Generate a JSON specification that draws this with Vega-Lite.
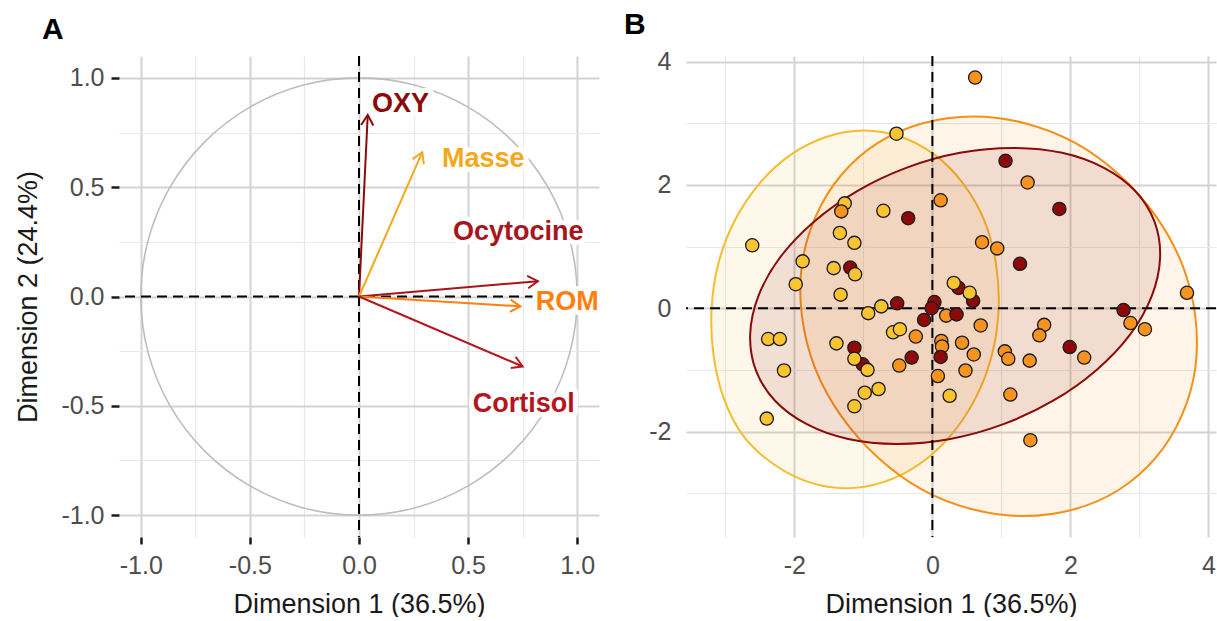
{
  "$schema": "https://vega.github.io/schema/vega-lite/v6.json",
  "background": "white",
  "padding": {"left": 14, "top": 9, "right": 0, "bottom": 0},
  "bounds": "flush",
  "spacing": 87,
  "resolve": {"scale": {"color": "independent", "x": "independent", "y": "independent"}},
  "config": {
    "font": "Liberation Sans",
    "view": {"stroke": null},
    "axis": {
      "domain": false,
      "labelColor": "#4D4D4D",
      "labelFontSize": 25,
      "titleColor": "#1A1A1A",
      "titleFontSize": 27,
      "titleFontWeight": "normal",
      "tickColor": "#1A1A1A",
      "tickWidth": 2.5,
      "labelOverlap": false,
      "labelFlush": false
    },
    "title": {"fontSize": 30, "fontWeight": "bold", "anchor": "start", "frame": "group", "color": "#000000", "offset": 10}
  },
  "datasets": {
    "one": [{"z": 0}],
    "circle": [
      {"i": 0, "x": 1, "y": 0}, {"i": 1, "x": 0.9659, "y": 0.2588}, {"i": 2, "x": 0.866, "y": 0.5}, {"i": 3, "x": 0.7071, "y": 0.7071},
      {"i": 4, "x": 0.5, "y": 0.866}, {"i": 5, "x": 0.2588, "y": 0.9659}, {"i": 6, "x": 0, "y": 1}, {"i": 7, "x": -0.2588, "y": 0.9659},
      {"i": 8, "x": -0.5, "y": 0.866}, {"i": 9, "x": -0.7071, "y": 0.7071}, {"i": 10, "x": -0.866, "y": 0.5}, {"i": 11, "x": -0.9659, "y": 0.2588},
      {"i": 12, "x": -1, "y": 0}, {"i": 13, "x": -0.9659, "y": -0.2588}, {"i": 14, "x": -0.866, "y": -0.5}, {"i": 15, "x": -0.7071, "y": -0.7071},
      {"i": 16, "x": -0.5, "y": -0.866}, {"i": 17, "x": -0.2588, "y": -0.9659}, {"i": 18, "x": 0, "y": -1}, {"i": 19, "x": 0.2588, "y": -0.9659},
      {"i": 20, "x": 0.5, "y": -0.866}, {"i": 21, "x": 0.7071, "y": -0.7071}, {"i": 22, "x": 0.866, "y": -0.5}, {"i": 23, "x": 0.9659, "y": -0.2588}
    ],
    "arrows": [
      {"var": "OXY", "x": 0.04, "y": 0.83},
      {"var": "Masse", "x": 0.29, "y": 0.66},
      {"var": "Ocytocine", "x": 0.82, "y": 0.07},
      {"var": "ROM", "x": 0.74, "y": -0.045},
      {"var": "Cortisol", "x": 0.75, "y": -0.32}
    ],
    "labels": [
      {"var": "OXY", "x": 0.19, "y": 0.88},
      {"var": "Masse", "x": 0.57, "y": 0.63},
      {"var": "Ocytocine", "x": 0.73, "y": 0.295},
      {"var": "ROM", "x": 0.955, "y": -0.025},
      {"var": "Cortisol", "x": 0.755, "y": -0.49}
    ],
    "ellipses": [
      {"g": "G1", "i": 0, "x": 0.96, "y": -0.02}, {"g": "G1", "i": 1, "x": 0.92, "y": 0.73}, {"g": "G1", "i": 2, "x": 0.75, "y": 1.43}, {"g": "G1", "i": 3, "x": 0.44, "y": 2.03},
      {"g": "G1", "i": 4, "x": 0.03, "y": 2.49}, {"g": "G1", "i": 5, "x": -0.46, "y": 2.78}, {"g": "G1", "i": 6, "x": -0.99, "y": 2.88}, {"g": "G1", "i": 7, "x": -1.53, "y": 2.78},
      {"g": "G1", "i": 8, "x": -2.05, "y": 2.49}, {"g": "G1", "i": 9, "x": -2.5, "y": 2.03}, {"g": "G1", "i": 10, "x": -2.86, "y": 1.43}, {"g": "G1", "i": 11, "x": -3.1, "y": 0.73},
      {"g": "G1", "i": 12, "x": -3.2, "y": -0.02}, {"g": "G1", "i": 13, "x": -3.17, "y": -0.77}, {"g": "G1", "i": 14, "x": -3.02, "y": -1.47}, {"g": "G1", "i": 15, "x": -2.74, "y": -2.07},
      {"g": "G1", "i": 16, "x": -2.3, "y": -2.53}, {"g": "G1", "i": 17, "x": -1.79, "y": -2.82}, {"g": "G1", "i": 18, "x": -1.25, "y": -2.92}, {"g": "G1", "i": 19, "x": -0.71, "y": -2.82},
      {"g": "G1", "i": 20, "x": -0.19, "y": -2.53}, {"g": "G1", "i": 21, "x": 0.26, "y": -2.07}, {"g": "G1", "i": 22, "x": 0.62, "y": -1.47}, {"g": "G1", "i": 23, "x": 0.86, "y": -0.77},
      {"g": "G2", "i": 0, "x": 3.81, "y": -0.13}, {"g": "G2", "i": 1, "x": 3.62, "y": 0.71}, {"g": "G2", "i": 2, "x": 3.24, "y": 1.49}, {"g": "G2", "i": 3, "x": 2.71, "y": 2.16},
      {"g": "G2", "i": 4, "x": 2.07, "y": 2.68}, {"g": "G2", "i": 5, "x": 1.34, "y": 3.0}, {"g": "G2", "i": 6, "x": 0.59, "y": 3.11}, {"g": "G2", "i": 7, "x": -0.14, "y": 3.0},
      {"g": "G2", "i": 8, "x": -0.79, "y": 2.68}, {"g": "G2", "i": 9, "x": -1.32, "y": 2.16}, {"g": "G2", "i": 10, "x": -1.69, "y": 1.49}, {"g": "G2", "i": 11, "x": -1.89, "y": 0.71},
      {"g": "G2", "i": 12, "x": -1.89, "y": -0.13}, {"g": "G2", "i": 13, "x": -1.7, "y": -0.97}, {"g": "G2", "i": 14, "x": -1.32, "y": -1.75}, {"g": "G2", "i": 15, "x": -0.79, "y": -2.42},
      {"g": "G2", "i": 16, "x": -0.15, "y": -2.94}, {"g": "G2", "i": 17, "x": 0.58, "y": -3.26}, {"g": "G2", "i": 18, "x": 1.33, "y": -3.37}, {"g": "G2", "i": 19, "x": 2.06, "y": -3.26},
      {"g": "G2", "i": 20, "x": 2.71, "y": -2.94}, {"g": "G2", "i": 21, "x": 3.24, "y": -2.42}, {"g": "G2", "i": 22, "x": 3.61, "y": -1.75}, {"g": "G2", "i": 23, "x": 3.81, "y": -0.97},
      {"g": "G3", "i": 0, "x": 3.18, "y": 0.2}, {"g": "G3", "i": 1, "x": 3.3, "y": 0.82}, {"g": "G3", "i": 2, "x": 3.22, "y": 1.4}, {"g": "G3", "i": 3, "x": 2.94, "y": 1.9},
      {"g": "G3", "i": 4, "x": 2.48, "y": 2.28}, {"g": "G3", "i": 5, "x": 1.88, "y": 2.52}, {"g": "G3", "i": 6, "x": 1.17, "y": 2.6}, {"g": "G3", "i": 7, "x": 0.4, "y": 2.52},
      {"g": "G3", "i": 8, "x": -0.37, "y": 2.28}, {"g": "G3", "i": 9, "x": -1.09, "y": 1.9}, {"g": "G3", "i": 10, "x": -1.72, "y": 1.4}, {"g": "G3", "i": 11, "x": -2.21, "y": 0.82},
      {"g": "G3", "i": 12, "x": -2.52, "y": 0.2}, {"g": "G3", "i": 13, "x": -2.64, "y": -0.42}, {"g": "G3", "i": 14, "x": -2.56, "y": -1.0}, {"g": "G3", "i": 15, "x": -2.28, "y": -1.5},
      {"g": "G3", "i": 16, "x": -1.82, "y": -1.88}, {"g": "G3", "i": 17, "x": -1.22, "y": -2.12}, {"g": "G3", "i": 18, "x": -0.51, "y": -2.2}, {"g": "G3", "i": 19, "x": 0.26, "y": -2.12},
      {"g": "G3", "i": 20, "x": 1.03, "y": -1.88}, {"g": "G3", "i": 21, "x": 1.75, "y": -1.5}, {"g": "G3", "i": 22, "x": 2.38, "y": -1.0}, {"g": "G3", "i": 23, "x": 2.87, "y": -0.42}
    ],
    "points": [
      {"g": "G2", "x": 0.62, "y": 3.74}, {"g": "G2", "x": 1.38, "y": 2.04}, {"g": "G2", "x": 0.12, "y": 1.75}, {"g": "G2", "x": 0.72, "y": 1.07},
      {"g": "G2", "x": 0.94, "y": 0.97}, {"g": "G2", "x": 3.69, "y": 0.25}, {"g": "G2", "x": 0.2, "y": -0.12}, {"g": "G2", "x": 0.7, "y": -0.28},
      {"g": "G2", "x": -0.24, "y": -0.46}, {"g": "G2", "x": 0.13, "y": -0.53}, {"g": "G2", "x": 0.14, "y": -0.62}, {"g": "G2", "x": 0.43, "y": -0.56},
      {"g": "G2", "x": 0.6, "y": -0.75}, {"g": "G2", "x": 0.08, "y": -1.1}, {"g": "G2", "x": 0.48, "y": -1.01}, {"g": "G2", "x": -0.48, "y": -0.93},
      {"g": "G2", "x": 1.62, "y": -0.27}, {"g": "G2", "x": 1.55, "y": -0.44}, {"g": "G2", "x": 1.05, "y": -0.7}, {"g": "G2", "x": 1.1, "y": -0.82},
      {"g": "G2", "x": 1.41, "y": -0.85}, {"g": "G2", "x": 2.2, "y": -0.8}, {"g": "G2", "x": 1.13, "y": -1.4}, {"g": "G2", "x": 1.42, "y": -2.14},
      {"g": "G2", "x": 2.87, "y": -0.24}, {"g": "G2", "x": 3.08, "y": -0.34},
      {"g": "G3", "x": 1.06, "y": 2.39}, {"g": "G3", "x": 1.84, "y": 1.61}, {"g": "G3", "x": -0.35, "y": 1.46}, {"g": "G3", "x": 1.27, "y": 0.72},
      {"g": "G3", "x": -1.19, "y": 0.66}, {"g": "G3", "x": 0.38, "y": 0.33}, {"g": "G3", "x": 0.59, "y": 0.12}, {"g": "G3", "x": -0.51, "y": 0.08},
      {"g": "G3", "x": 0.03, "y": 0.1}, {"g": "G3", "x": -0.01, "y": 0.0}, {"g": "G3", "x": -0.12, "y": -0.19}, {"g": "G3", "x": 0.35, "y": -0.1},
      {"g": "G3", "x": -1.13, "y": -0.64}, {"g": "G3", "x": -1.01, "y": -0.91}, {"g": "G3", "x": -0.3, "y": -0.8}, {"g": "G3", "x": 0.12, "y": -0.79},
      {"g": "G3", "x": 1.99, "y": -0.63}, {"g": "G3", "x": 2.77, "y": -0.03},
      {"g": "G1", "x": -0.52, "y": 2.83}, {"g": "G1", "x": -1.27, "y": 1.7}, {"g": "G1", "x": -0.71, "y": 1.58}, {"g": "G1", "x": -1.34, "y": 1.22},
      {"g": "G1", "x": -1.13, "y": 1.06}, {"g": "G1", "x": -2.61, "y": 1.02}, {"g": "G1", "x": -1.88, "y": 0.76}, {"g": "G1", "x": -1.43, "y": 0.65},
      {"g": "G1", "x": -1.12, "y": 0.55}, {"g": "G1", "x": -1.98, "y": 0.39}, {"g": "G1", "x": -1.33, "y": 0.22}, {"g": "G1", "x": 0.31, "y": 0.41},
      {"g": "G1", "x": 0.54, "y": 0.25}, {"g": "G1", "x": -0.74, "y": 0.03}, {"g": "G1", "x": -0.93, "y": -0.08}, {"g": "G1", "x": -0.57, "y": -0.39},
      {"g": "G1", "x": -0.47, "y": -0.34}, {"g": "G1", "x": -2.38, "y": -0.5}, {"g": "G1", "x": -2.21, "y": -0.5}, {"g": "G1", "x": -1.39, "y": -0.57},
      {"g": "G1", "x": -1.13, "y": -0.82}, {"g": "G1", "x": -0.94, "y": -1.0}, {"g": "G1", "x": -2.15, "y": -1.01}, {"g": "G1", "x": 0.25, "y": -1.42},
      {"g": "G1", "x": -0.98, "y": -1.37}, {"g": "G1", "x": -0.78, "y": -1.31}, {"g": "G1", "x": -1.13, "y": -1.59}, {"g": "G1", "x": -2.4, "y": -1.79},
      {"g": "G2", "x": -1.32, "y": 1.57}
    ]
  },
  "hconcat": [
    {
      "title": {"text": "A", "dx": -77},
      "width": 480,
      "height": 481,
      "layer": [
        {
          "data": {"name": "circle"},
          "mark": {"type": "line", "interpolate": "cardinal-closed", "color": "#BDBDBD", "strokeWidth": 1.6},
          "encoding": {
            "x": {
              "field": "x", "type": "quantitative", "title": "Dimension 1 (36.5%)",
              "scale": {"domain": [-1.1, 1.1], "nice": false, "zero": false},
              "axis": {
                "values": [-1, -0.75, -0.5, -0.25, 0, 0.25, 0.5, 0.75, 1],
                "grid": true,
                "gridColor": {"condition": {"test": "datum.value % 0.5 === 0", "value": "#D3D3D3"}, "value": "#E8E8E8"},
                "gridWidth": {"condition": {"test": "datum.value % 0.5 === 0", "value": 2}, "value": 1.2},
                "tickOpacity": {"condition": {"test": "datum.value % 0.5 === 0", "value": 1}, "value": 0},
                "labelExpr": "datum.value % 0.5 === 0 ? (datum.value < 0 ? '-' + format(-datum.value, '.1f') : format(datum.value, '.1f')) : ''",
                "tickSize": 7, "labelPadding": 9, "titlePadding": 13
              }
            },
            "y": {
              "field": "y", "type": "quantitative", "title": "Dimension 2 (24.4%)",
              "scale": {"domain": [-1.1, 1.1], "nice": false, "zero": false},
              "axis": {
                "values": [-1, -0.75, -0.5, -0.25, 0, 0.25, 0.5, 0.75, 1],
                "grid": true,
                "gridColor": {"condition": {"test": "datum.value % 0.5 === 0", "value": "#D3D3D3"}, "value": "#E8E8E8"},
                "gridWidth": {"condition": {"test": "datum.value % 0.5 === 0", "value": 2}, "value": 1.2},
                "tickOpacity": {"condition": {"test": "datum.value % 0.5 === 0", "value": 1}, "value": 0},
                "labelExpr": "datum.value % 0.5 === 0 ? (datum.value < 0 ? '-' + format(-datum.value, '.1f') : format(datum.value, '.1f')) : ''",
                "tickSize": 8, "labelPadding": 7, "titlePadding": 18
              }
            },
            "order": {"field": "i", "type": "quantitative"}
          }
        },
        {
          "data": {"name": "one"},
          "mark": {"type": "rule", "color": "#000000", "strokeWidth": 2, "strokeDash": [10, 6]},
          "encoding": {"x": {"datum": 0, "type": "quantitative"}}
        },
        {
          "data": {"name": "one"},
          "mark": {"type": "rule", "color": "#000000", "strokeWidth": 2, "strokeDash": [10, 6]},
          "encoding": {"y": {"datum": 0, "type": "quantitative"}}
        },
        {
          "data": {"name": "arrows"},
          "mark": {"type": "rule", "strokeWidth": 2},
          "encoding": {
            "x": {"field": "x", "type": "quantitative", "title": "Dimension 1 (36.5%)"},
            "y": {"field": "y", "type": "quantitative", "title": "Dimension 2 (24.4%)"},
            "x2": {"datum": 0},
            "y2": {"datum": 0},
            "color": {"field": "var", "type": "nominal", "legend": null,
              "scale": {"domain": ["OXY", "Masse", "Ocytocine", "ROM", "Cortisol"], "range": ["#8B0A0A", "#F4A81C", "#A8141B", "#FF7F0F", "#B5161E"]}}
          }
        },
        {
          "data": {"name": "arrows"},
          "transform": [{"calculate": "-atan2(datum.y, datum.x) * 180 / PI", "as": "ang"}],
          "mark": {"type": "point", "shape": "M-1,-0.6L0,0L-1,0.6", "filled": false, "size": 420, "strokeWidth": 2, "opacity": 1},
          "encoding": {
            "x": {"field": "x", "type": "quantitative", "title": "Dimension 1 (36.5%)"},
            "y": {"field": "y", "type": "quantitative", "title": "Dimension 2 (24.4%)"},
            "angle": {"field": "ang", "type": "quantitative", "scale": null},
            "color": {"field": "var", "type": "nominal", "legend": null}
          }
        },
        {
          "data": {"name": "labels"},
          "mark": {"type": "text", "fontSize": 27, "fontWeight": "bold", "align": "center", "baseline": "middle", "stroke": "white", "strokeWidth": 10, "strokeJoin": "round", "fill": "white"},
          "encoding": {
            "x": {"field": "x", "type": "quantitative", "title": "Dimension 1 (36.5%)"},
            "y": {"field": "y", "type": "quantitative", "title": "Dimension 2 (24.4%)"},
            "text": {"field": "var", "type": "nominal"}
          }
        },
        {
          "data": {"name": "labels"},
          "mark": {"type": "text", "fontSize": 27, "fontWeight": "bold", "align": "center", "baseline": "middle"},
          "encoding": {
            "x": {"field": "x", "type": "quantitative", "title": "Dimension 1 (36.5%)"},
            "y": {"field": "y", "type": "quantitative", "title": "Dimension 2 (24.4%)"},
            "text": {"field": "var", "type": "nominal"},
            "color": {"field": "var", "type": "nominal", "legend": null}
          }
        }
      ]
    },
    {
      "title": {"text": "B", "dx": -62},
      "width": 530,
      "height": 481,
      "layer": [
        {
          "data": {"name": "ellipses"},
          "mark": {"type": "line", "interpolate": "cardinal-closed", "strokeWidth": 2, "fillOpacity": 0.1},
          "encoding": {
            "x": {
              "field": "x", "type": "quantitative", "title": "Dimension 1 (36.5%)",
              "scale": {"domain": [-3.57, 4.11], "nice": false, "zero": false},
              "axis": {
                "values": [-3, -2, -1, 0, 1, 2, 3, 4],
                "grid": true,
                "gridColor": {"condition": {"test": "datum.value % 2 === 0", "value": "#D3D3D3"}, "value": "#E8E8E8"},
                "gridWidth": {"condition": {"test": "datum.value % 2 === 0", "value": 2}, "value": 1.2},
                "tickOpacity": 0,
                "labelExpr": "datum.value % 2 === 0 ? (datum.value < 0 ? '-' + format(-datum.value, 'd') : format(datum.value, 'd')) : ''",
                "tickSize": 7, "labelPadding": 9, "titlePadding": 13
              }
            },
            "y": {
              "field": "y", "type": "quantitative", "title": null,
              "scale": {"domain": [-3.71, 4.09], "nice": false, "zero": false},
              "axis": {
                "values": [-3, -2, -1, 0, 1, 2, 3, 4],
                "grid": true,
                "gridColor": {"condition": {"test": "datum.value % 2 === 0", "value": "#D3D3D3"}, "value": "#E8E8E8"},
                "gridWidth": {"condition": {"test": "datum.value % 2 === 0", "value": 2}, "value": 1.2},
                "tickOpacity": 0,
                "labelExpr": "datum.value % 2 === 0 ? (datum.value < 0 ? '-' + format(-datum.value, 'd') : format(datum.value, 'd')) : ''",
                "tickSize": 8, "labelPadding": 7
              }
            },
            "stroke": {"field": "g", "type": "nominal", "legend": null,
              "scale": {"domain": ["G1", "G2", "G3"], "range": ["#F5BC2F", "#F39018", "#8B0A0A"]}},
            "fill": {"field": "g", "type": "nominal", "legend": null,
              "scale": {"domain": ["G1", "G2", "G3"], "range": ["#F5BC2F", "#F39018", "#8B0A0A"]}},
            "order": {"field": "i", "type": "quantitative"}
          }
        },
        {
          "data": {"name": "one"},
          "mark": {"type": "rule", "color": "#000000", "strokeWidth": 2, "strokeDash": [10, 6]},
          "encoding": {"x": {"datum": 0, "type": "quantitative"}}
        },
        {
          "data": {"name": "one"},
          "mark": {"type": "rule", "color": "#000000", "strokeWidth": 2, "strokeDash": [10, 6]},
          "encoding": {"y": {"datum": 0, "type": "quantitative"}}
        },
        {
          "data": {"name": "points"},
          "mark": {"type": "circle", "size": 175, "stroke": "#1A1A1A", "strokeWidth": 1.3, "opacity": 1},
          "encoding": {
            "x": {"field": "x", "type": "quantitative", "title": "Dimension 1 (36.5%)"},
            "y": {"field": "y", "type": "quantitative", "title": null},
            "color": {"field": "g", "type": "nominal", "legend": null,
              "scale": {"domain": ["G1", "G2", "G3"], "range": ["#FAC431", "#F7931E", "#8E0A0A"]}}
          }
        }
      ]
    }
  ]
}
